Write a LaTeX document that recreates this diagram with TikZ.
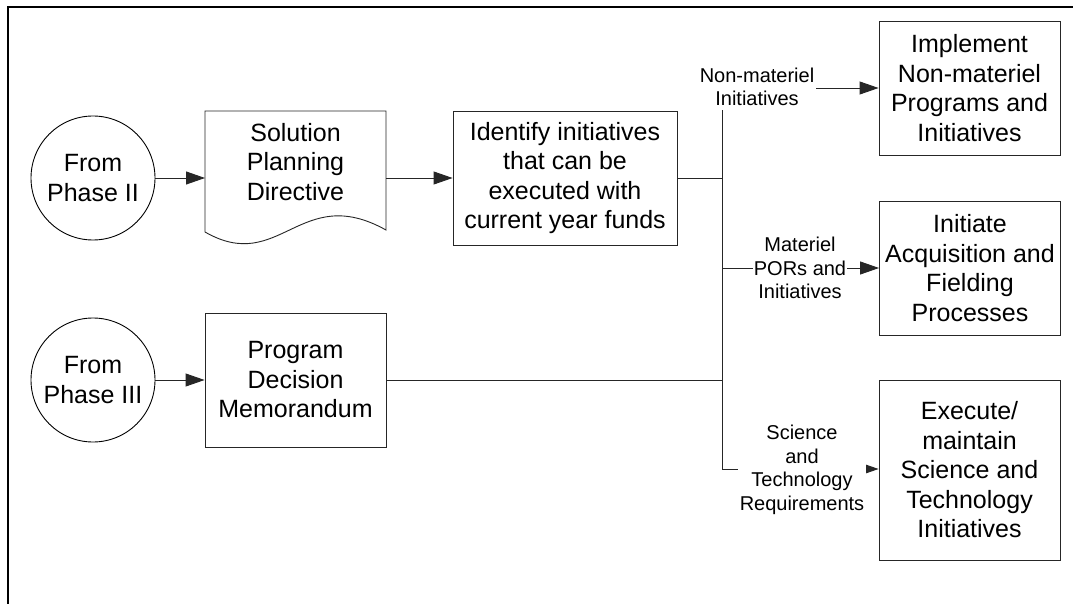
\documentclass[tikz,border=0pt]{standalone}
\usepackage{fontspec}
\setmainfont{Liberation Sans}
\usetikzlibrary{arrows.meta}
\begin{document}
\begin{tikzpicture}[x=1pt,y=-1pt,
  line/.style={draw=black!85, line width=0.9pt},
  arr/.style={line, -{Triangle[length=19pt,width=13pt]}},
  box/.style={draw=black!85, line width=0.9pt, rectangle, align=center, inner sep=0pt,
    font=\fontsize{25}{29.5}\selectfont, minimum width=181pt, minimum height=134pt},
  circ/.style={draw=black, line width=0.9pt, circle, minimum size=124pt, align=center, inner sep=0pt,
    font=\fontsize{25}{29.5}\selectfont},
  lbl/.style={fill=white, align=center, font=\fontsize{20}{23.5}\selectfont, inner xsep=2pt, inner ysep=4pt}
]
\fill[white] (0,0) rectangle (1073,604);
\useasboundingbox (0,0) rectangle (1073,604);
\draw[line width=2pt] (8,604) -- (8,7) -- (1073,7);

% left nodes
\node[circ] (c1) at (93,178) {From\\Phase II};
\node[circ] (c2) at (93,380) {From\\Phase III};

% document shape
\node[align=center, inner sep=0pt, font=\fontsize{25}{29.5}\selectfont] (spd) at (295.5,162) {Solution\\Planning\\Directive};
\coordinate (dtl) at (205,111);
\coordinate (dtr) at (386,111);
\coordinate (dbr) at (386,230);
\coordinate (dbl) at (205,232);
\coordinate (dl) at (205,178);
\coordinate (dr) at (386,178);
\draw[line] (dbl) -- (dtl) -- (dtr) -- (dbr) .. controls (300,182) and (280,275) .. (dbl);

\node[box] (idf) at (565,178) [minimum width=224pt] {Identify initiatives\\that can be\\executed with\\current year funds};
\node[box] (pdm) at (295.5,380) {Program\\Decision\\Memorandum};

% right boxes
\node[box] (b1) at (969.5,88) {Implement\\Non-materiel\\Programs and\\Initiatives};
\node[box] (b2) at (970,268) {Initiate\\Acquisition and\\Fielding\\Processes};
\node[box] (b3) at (969.5,470) [minimum height=180pt] {Execute/\\maintain\\Science and\\Technology\\Initiatives};

% junction coordinates
\coordinate (jtop) at (722,88);
\coordinate (jA) at (722,178);
\coordinate (jM) at (722,268);
\coordinate (jB) at (722,380);
\coordinate (jS) at (722,469);

% connectors
\draw[arr] (c1) -- (dl);
\draw[arr] (dr) -- (idf.west);
\draw[arr] (c2) -- (pdm.west);
\draw[line] (idf.east) -- (jA);
\draw[line] (pdm.east) -- (jB);
\draw[line] (jtop) -- (jS);
\draw[arr] (jtop) -- (b1.west);
\draw[arr] (jM) -- (b2.west);
\draw[arr] (jS) -- (jS -| b3.west);

% branch labels
\node[lbl] (l1) at (757,87) {Non-materiel\\Initiatives};
\node[lbl, inner xsep=1pt] (l2) at (800,268) {Materiel\\PORs and\\Initiatives};
\node[lbl] (l3) at (802,470) {Science\\and\\Technology\\Requirements};
\end{tikzpicture}
\end{document}
